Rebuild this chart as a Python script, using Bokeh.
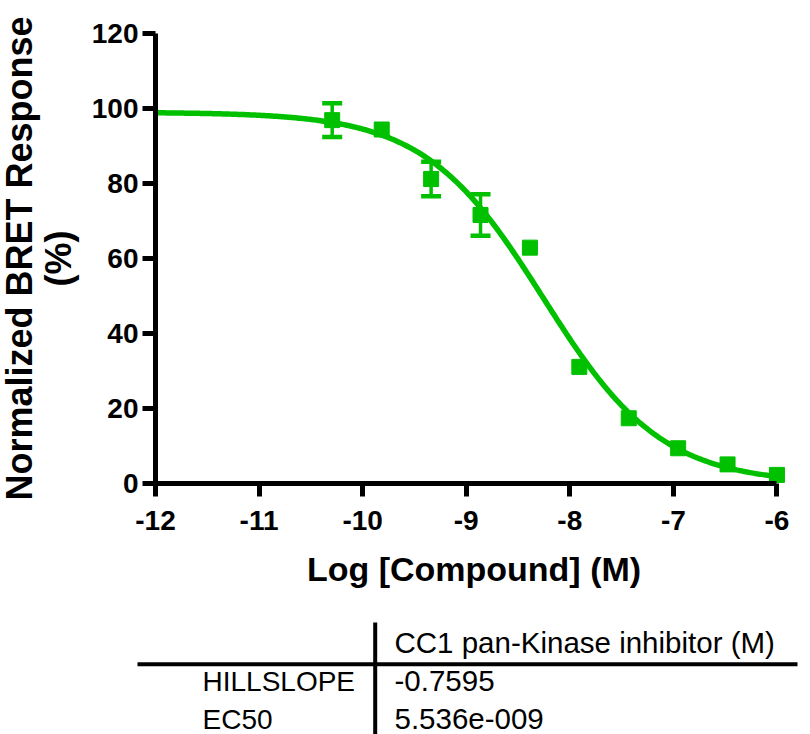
import numpy as np
from bokeh.plotting import figure
from bokeh.models import (Range1d, FixedTicker, Whisker, TeeHead, ColumnDataSource, Title)
from bokeh.core.properties import value
from bokeh.embed import file_html
from bokeh.resources import INLINE

# ---------------- data ----------------
log_conc = [-10.294, -9.816, -9.339, -8.862, -8.385, -7.908, -7.431, -6.954, -6.477, -6.0]
response = [96.9, 94.4, 81.2, 71.6, 62.9, 31.1, 17.4, 9.4, 5.1, 2.3]
sem = [4.5, 0.0, 4.6, 5.55, 0.0, 0.0, 0.0, 0.0, 0.0, 0.0]

hillslope = -0.7595
ec50 = 5.536e-9
top = 99.0
bottom = 0.0

x_ticks = [-12, -11, -10, -9, -8, -7, -6]
y_ticks = [0, 20, 40, 60, 80, 100, 120]

table_header = "CC1 pan-Kinase inhibitor (M)"
table_rows = ["HILLSLOPE", "EC50"]
table_values = ["-0.7595", "5.536e-009"]

x_title = "Log [Compound] (M)"
y_title = ["Normalized BRET Response", "(%)"]

GREEN = "#00C000"
FONT = "Liberation Sans"

# fitted curve from the reported fit parameters
curve_x = np.linspace(-12, -6, 400)
log_ec50 = np.log10(ec50)
curve_y = bottom + (top - bottom) / (1 + 10 ** ((log_ec50 - curve_x) * hillslope))

# ---------------- main plot ----------------
p = figure(width=810, height=600, x_range=Range1d(-12, -5.85), y_range=Range1d(0, 120),
           output_backend="svg", toolbar_location=None,
           min_border_left=155, min_border_right=18, min_border_top=33, min_border_bottom=117)
p.outline_line_color = None
p.grid.visible = False
p.background_fill_color = "white"
p.border_fill_color = "white"

for ax in (p.xaxis, p.yaxis):
    ax.axis_line_width = 5
    ax.axis_line_color = "black"
    ax.major_tick_line_width = 5
    ax.major_tick_line_color = "black"
    ax.major_tick_out = 13
    ax.major_tick_in = 0
    ax.minor_tick_line_color = None
    ax.major_label_text_font = FONT
    ax.major_label_text_font_style = "bold"
    ax.major_label_text_font_size = "28px"
    ax.major_label_text_color = "black"
    ax.axis_label_text_font = FONT
    ax.axis_label_text_font_style = "bold"
    ax.axis_label_text_color = "black"

p.xaxis.ticker = FixedTicker(ticks=x_ticks)
p.yaxis.ticker = FixedTicker(ticks=y_ticks)
p.xaxis.major_label_overrides = {t: str(t) for t in x_ticks}
p.yaxis.major_label_overrides = {t: str(t) for t in y_ticks}
p.xaxis.bounds = (x_ticks[0], x_ticks[-1])
p.xaxis.major_label_standoff = 14
p.yaxis.major_label_standoff = 4

p.xaxis.axis_label = x_title
p.xaxis.axis_label_text_font_size = "34px"
p.xaxis.axis_label_standoff = 17

p.yaxis.axis_label = y_title[1]
p.yaxis.axis_label_text_font_size = "36px"
p.yaxis.axis_label_standoff = 10

p.add_layout(Title(text=y_title[0], align="center", text_font=FONT, text_font_style="bold",
                   text_font_size="36px", text_color="black", standoff=-10), "left")

p.line(curve_x, curve_y, line_color=GREEN, line_width=5.5)

err_idx = [i for i, e in enumerate(sem) if e > 0]
src_err = ColumnDataSource(dict(
    x=[log_conc[i] for i in err_idx],
    upper=[response[i] + sem[i] for i in err_idx],
    lower=[response[i] - sem[i] for i in err_idx]))
w = Whisker(source=src_err, base="x", upper="upper", lower="lower", dimension="height",
            line_color=GREEN, line_width=3.5,
            upper_head=TeeHead(size=20, line_color=GREEN, line_width=4.5),
            lower_head=TeeHead(size=20, line_color=GREEN, line_width=4.5))
p.add_layout(w)

p.scatter(log_conc, response, marker="square", size=15, fill_color=GREEN, line_color=GREEN)

# ---------------- results table ----------------
t = figure(width=810, height=134, x_range=Range1d(0, 810), y_range=Range1d(134, 0),
           output_backend="svg", toolbar_location=None, x_axis_type=None, y_axis_type=None,
           min_border=0, min_border_left=0, min_border_right=0, min_border_top=0,
           min_border_bottom=0)
t.outline_line_color = None
t.grid.visible = False

t.segment(x0=[137], y0=[63.7], x1=[797], y1=[63.7], line_color="black", line_width=4)
t.segment(x0=[374.7], y0=[22], x1=[374.7], y1=[134], line_color="black", line_width=4)

t.text(x=[394], y=[41.5], text=[table_header], text_font=value(FONT), text_font_size="29.5px",
       text_baseline="alphabetic", text_align="left", text_color="black")
t.text(x=[202, 202], y=[80.5, 118.5], text=table_rows, text_font=value(FONT), text_font_size="28px",
       text_baseline="alphabetic", text_align="left", text_color="black")
t.text(x=[394, 394], y=[80.5, 118.5], text=table_values, text_font=value(FONT), text_font_size="29.5px",
       text_baseline="alphabetic", text_align="left", text_color="black")

open("out.html", "w").write(file_html([p, t], INLINE))
